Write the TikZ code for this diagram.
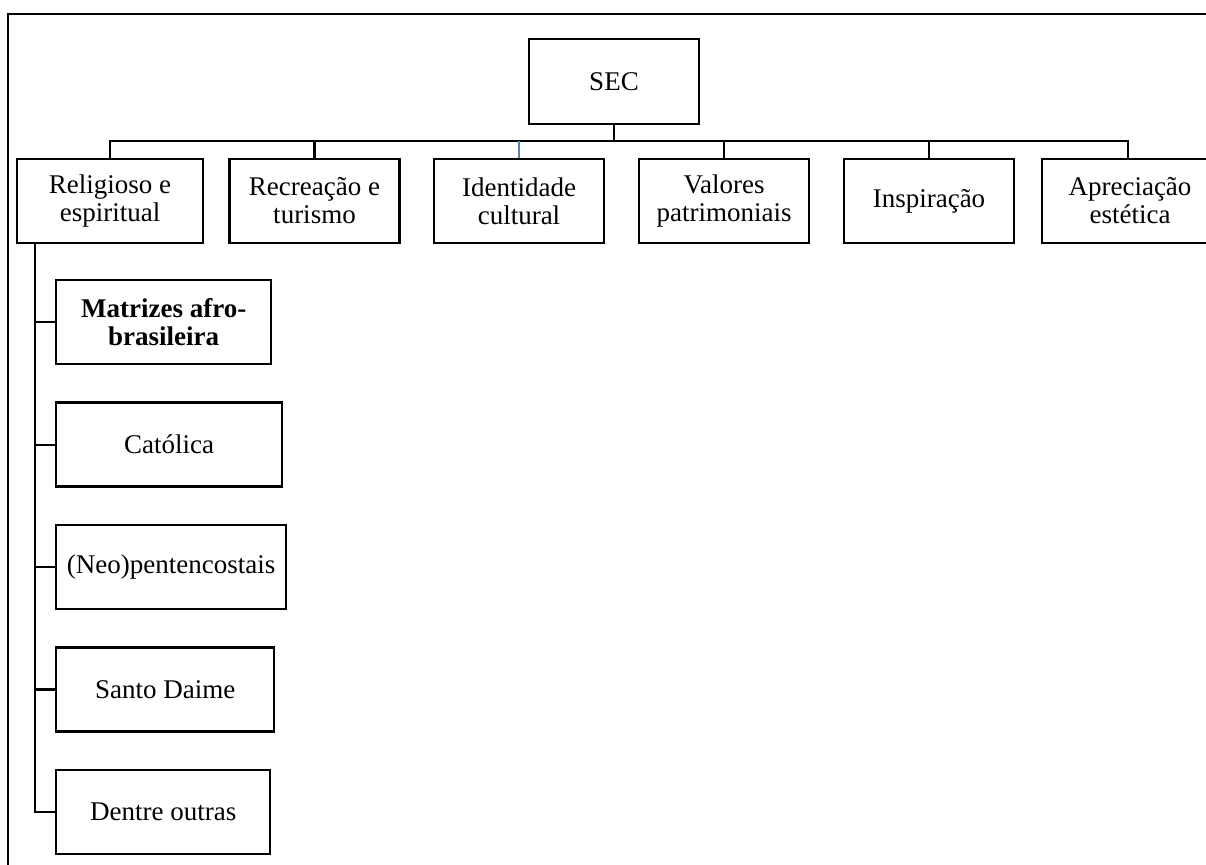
\documentclass[tikz,border=0pt]{standalone}
\usepackage{fontspec}
\setmainfont{Liberation Serif}
\usetikzlibrary{positioning}
\definecolor{DropBlue}{RGB}{84, 130, 180}

\begin{document}
\begin{tikzpicture}[
    x=0.5pt, y=-0.5pt,
    node distance=18pt,
    every node/.style={font=\fontsize{13.5}{14}\selectfont, align=center, inner sep=2pt},
    box/.style={draw, line width=1.2pt, minimum width=85pt, minimum height=42pt},
    sub/.style={draw, line width=1.2pt, minimum height=42pt},
    link/.style={line width=1.1pt}
]
\path[use as bounding box, clip] (0,0) rectangle (1206,864);
\draw[line width=0.8pt] (8,14) rectangle (1240,900);

\node[box, minimum height=42.5pt] (sec) at (614,81.5) {SEC};

\node[box, minimum width=93pt] (rel) at (110,201) {Religioso e\\espiritual};
\node[box] (rec) at (314.5,201) {Recreação e\\turismo};
\node[box] (iden) at (519,201) {Identidade\\cultural};
\node[box] (val) at (724,201) {Valores\\patrimoniais};
\node[box] (insp) at (929,201) {Inspiração};
\node[box, minimum width=88pt] (apr) at (1130,201) {Apreciação\\estética};

\node[sub, anchor=north west, minimum width=107.5pt, font=\fontsize{13.5}{14}\selectfont\bfseries] (afro) at (55,279) {Matrizes afro-\\brasileira};
\node[sub, below=18pt of afro.south west, anchor=north west, minimum width=113pt] (cat) {Católica};
\node[sub, below=18pt of cat.south west, anchor=north west, minimum width=115pt] (neo) {(Neo)pentencostais};
\node[sub, below=18pt of neo.south west, anchor=north west, minimum width=109pt] (daime) {Santo Daime};
\node[sub, below=18pt of daime.south west, anchor=north west, minimum width=107pt] (other) {Dentre outras};

% SEC -> first level
\coordinate (bus) at (614,141);
\draw[link] (sec) -- (bus);
\draw[link] (bus) -| (rel.north);
\draw[link] (bus) -| (rec.north);
\draw[link] (bus) -- (bus -| iden.north);
\draw[DropBlue, line width=0.6pt] (bus -| iden.north) -- (iden.north);
\draw[link] (bus) -| (val.north);
\draw[link] (bus) -| (insp.north);
\draw[link] (bus) -| ([xshift=-1pt]apr.north);

% religious branch
\coordinate (spine) at ([xshift=9.5pt]rel.south west);
\draw[link] (spine |- afro.west) -- (afro.west);
\draw[link] (spine |- cat.west) -- (cat.west);
\draw[link] (spine |- neo.west) -- (neo.west);
\draw[link] (spine |- daime.west) -- (daime.west);
\draw[link] (spine) |- (other.west);
\end{tikzpicture}
\end{document}
